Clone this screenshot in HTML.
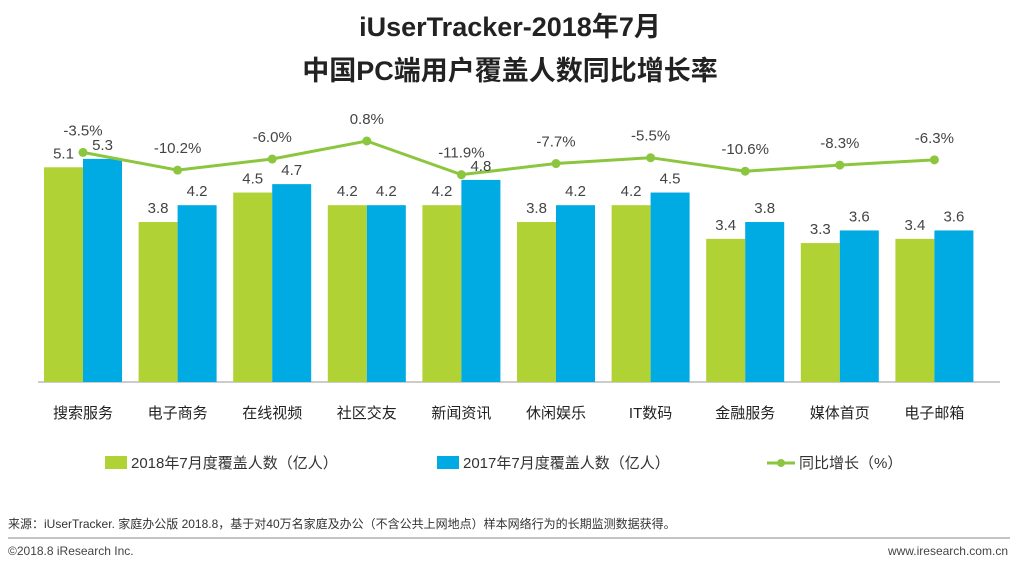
<!DOCTYPE html>
<html><head><meta charset="utf-8"><style>
body{margin:0;width:1021px;height:567px;background:#fff;overflow:hidden;font-family:"Liberation Sans","Noto Sans CJK SC",sans-serif}
svg text{font-family:"Liberation Sans","Noto Sans CJK SC",sans-serif}
</style></head><body>
<svg width="1021" height="567">
<text x="510" y="36" text-anchor="middle" font-size="27" font-weight="bold" fill="#222">iUserTracker-2018年7月</text>
<text x="510" y="80" text-anchor="middle" font-size="27" font-weight="bold" fill="#222">中国PC端用户覆盖人数同比增长率</text>
<line x1="38" y1="382" x2="1000" y2="382" stroke="#999" stroke-width="1"/>
<g id="bars"></g><g id="line"></g><g id="labels"></g>
<g>
<rect x="105" y="456" width="22" height="13" fill="#b1d235"/>
<text x="131" y="468" font-size="15" fill="#333">2018年7月度覆盖人数（亿人）</text>
<rect x="437" y="456" width="22" height="13" fill="#00aae3"/>
<text x="463" y="468" font-size="15" fill="#333">2017年7月度覆盖人数（亿人）</text>
<line x1="767" y1="463" x2="795" y2="463" stroke="#8cc63f" stroke-width="3"/>
<circle cx="781" cy="463" r="4" fill="#8cc63f"/>
<text x="799" y="468" font-size="15" fill="#333">同比增长（%）</text>
</g>
<text x="8" y="528" font-size="12" fill="#333">来源：iUserTracker. 家庭办公版 2018.8，基于对40万名家庭及办公（不含公共上网地点）样本网络行为的长期监测数据获得。</text>
<line x1="8" y1="538" x2="1010" y2="538" stroke="#888" stroke-width="1"/>
<text x="8" y="555" font-size="12" fill="#444">©2018.8 iResearch Inc.</text>
<text x="1008" y="555" font-size="12" fill="#444" text-anchor="end">www.iresearch.com.cn</text>
</svg>
<script>
const categories=["搜索服务","电子商务","在线视频","社区交友","新闻资讯","休闲娱乐","IT数码","金融服务","媒体首页","电子邮箱"];
const v2018=[5.1,3.8,4.5,4.2,4.2,3.8,4.2,3.4,3.3,3.4];
const v2017=[5.3,4.2,4.7,4.2,4.8,4.2,4.5,3.8,3.6,3.6];
const growth=[-3.5,-10.2,-6.0,0.8,-11.9,-7.7,-5.5,-10.6,-8.3,-6.3];
const NS="http://www.w3.org/2000/svg";
const xC=i=>83+i*94.6;
const yB=v=>382-v*42.1;
const yL=v=>141+(0.8-v)*2.65;
const bars=document.getElementById('bars'),line=document.getElementById('line'),labels=document.getElementById('labels');
function mk(tag,attrs,parent){const e=document.createElementNS(NS,tag);for(const k in attrs)e.setAttribute(k,attrs[k]);parent.appendChild(e);return e;}
function txt(x,y,s,parent,size,anchor){const t=mk('text',{x:x,y:y,'font-size':size,fill:'#444','text-anchor':anchor||'middle'},parent);t.textContent=s;return t;}
let pts=[];
categories.forEach((c,i)=>{
 const x=xC(i);
 const g=mk('rect',{x:x-39,y:yB(v2018[i]),width:39,height:382-yB(v2018[i]),fill:'#b1d235'},bars);
 
 
 const b=mk('rect',{x:x,y:yB(v2017[i]),width:39,height:382-yB(v2017[i]),fill:'#00aae3'},bars);
 
 
 const l1=txt(x-19.5,yB(v2018[i])-9,v2018[i].toFixed(1),labels,15);
 
 
 const l2=txt(x+19.5,yB(v2017[i])-9,v2017[i].toFixed(1),labels,15);
 
 
 const cl=txt(x,418,c,labels,15);
 
 
 cl.setAttribute('fill','#222');
 pts.push(x+','+yL(growth[i]));
});
const pl=mk('polyline',{points:pts.join(' '),fill:'none',stroke:'#8cc63f','stroke-width':3},line);


growth.forEach((v,i)=>{
 const c=mk('circle',{cx:xC(i),cy:yL(v),r:4.5,fill:'#8cc63f'},line);
 
 
 const t=txt(xC(i),yL(v)-17,v.toFixed(1)+'%',labels,15);
 
 
});
</script>
</body></html>
